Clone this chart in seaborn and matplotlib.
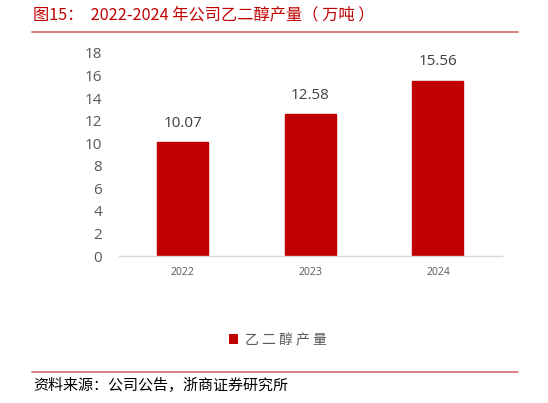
import matplotlib
matplotlib.use("Agg")
import matplotlib.pyplot as plt
import seaborn as sns
import pandas as pd
from matplotlib.lines import Line2D
from matplotlib.patches import Rectangle

years = ["2022", "2023", "2024"]
values = [10.07, 12.58, 15.56]
yticks = [0, 2, 4, 6, 8, 10, 12, 14, 16, 18]
series_name = "乙二醇产量"
title = "图15：  2022-2024 年公司乙二醇产量（ 万吨 ）"
source = "资料来源：公司公告，浙商证券研究所"

sns.set_theme(style="white")
plt.rcParams['font.family'] = ['Open Sans', 'Noto Sans CJK SC', 'DejaVu Sans']

df = pd.DataFrame({"year": years, "value": values})

fig = plt.figure(figsize=(5.48, 4.03), dpi=100)
ax = fig.add_axes([119/548, 1-256/403, (501.7-119)/548, (256-53)/403])
sns.barplot(data=df, x="year", y="value", color="#C00000", width=0.4, ax=ax,
            saturation=1, edgecolor="#C00000")
ax.set_xlim(-0.5, 2.5)
ax.set_ylim(0, 18)
ax.set_yticks(yticks)
ax.set_yticklabels([str(t) for t in yticks], fontsize=11, color="#595959")
ax.tick_params(axis='y', length=0, pad=12)
ax.tick_params(axis='x', which='major', length=0, labelsize=7.5, labelcolor="#595959", pad=8)
ax.set_xticks([-0.5, 0.5, 1.5, 2.5], minor=True)
ax.tick_params(axis='x', which='minor', length=4, color="#D9D9D9", width=1)
ax.set_xlabel("")
ax.set_ylabel("")
for s in ["top", "right", "left"]:
    ax.spines[s].set_visible(False)
ax.spines["bottom"].set_color("#D9D9D9")
ax.spines["bottom"].set_linewidth(1)

for i, v in enumerate(values):
    ax.annotate(f"{v:.2f}", (i, v), xytext=(0, 8), textcoords="offset points",
                ha="center", va="bottom", fontsize=11, color="#404040")

# Title and rules
fig.text(33/548, 1-15/403, title, color="#C00000", fontsize=11.7, va="center", ha="left",
         family=['Noto Sans CJK SC', 'DejaVu Sans'])
fig.add_artist(Line2D([32/548, 518/548], [1-32/403, 1-32/403], color="#D66A6A", lw=1.2))
fig.add_artist(Line2D([32/548, 518/548], [1-372/403, 1-372/403], color="#D66A6A", lw=1.2))

# Legend
fig.add_artist(Rectangle((229/548, 1-344.3/403), 8.6/548, 10/403, facecolor="#C00000",
                         edgecolor="none", transform=fig.transFigure))
fig.text(245/548, 1-340/403, "乙 二 醇 产 量", color="#595959", fontsize=10, va="center", ha="left",
         family=['Noto Sans CJK SC', 'DejaVu Sans'])

fig.text(33/548, 1-386/403, source, color="#000000", fontsize=10.8, va="center", ha="left",
         family=['Noto Sans CJK SC', 'DejaVu Sans'])

fig.savefig("out.png", dpi=100)
